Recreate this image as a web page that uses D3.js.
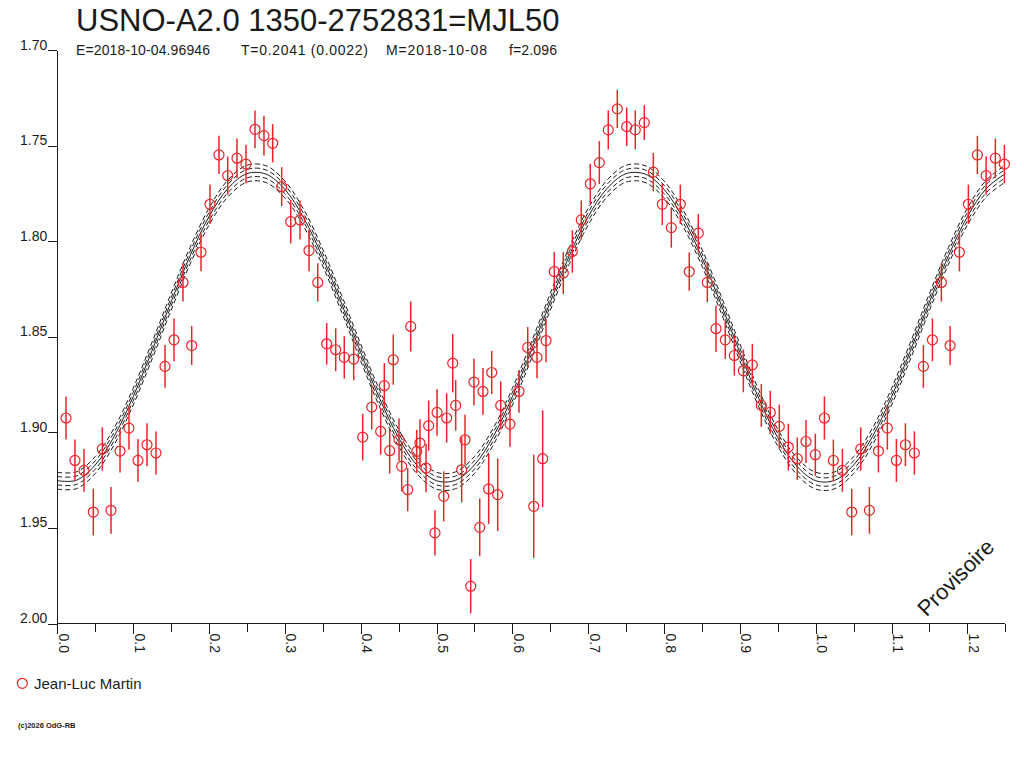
<!doctype html>
<html lang="fr">

<head>
  <meta charset="utf-8">
  <title>USNO-A2.0 1350-2752831=MJL50</title>
</head>

<body style="margin:0; overflow:hidden; background:#fff">
  <script src="https://cdnjs.cloudflare.com/ajax/libs/d3/7.8.5/d3.min.js"></script>
  <style>
    text { font-family: "Liberation Sans", Arial, sans-serif; fill: #1a1a1a; }
    .axis path, .axis line { stroke: #1a1a1a; shape-rendering: crispEdges; }
  </style>
  <script type="text/javascript">

    // measurements, phase 0..1 (the chart repeats 0..0.25 after 1.0)
    const phases = [
      0.0115, 0.0233, 0.0352, 0.0475, 0.0594, 0.0708, 0.0827, 0.0945, 0.1064, 0.1183,
      0.1301, 0.1420, 0.1539, 0.1657, 0.1772, 0.1895, 0.2013, 0.2132, 0.2247, 0.2369,
      0.2488, 0.2607, 0.2725, 0.2840, 0.2959, 0.3078, 0.3200, 0.3319, 0.3434, 0.3552,
      0.3671, 0.3784, 0.3908, 0.4027, 0.4146, 0.4264, 0.4312, 0.4383, 0.4430, 0.4506,
      0.4541, 0.4620, 0.4660, 0.4739, 0.4782, 0.4862, 0.4897, 0.4980, 0.5007, 0.5095,
      0.5134, 0.5214, 0.5253, 0.5332, 0.5376, 0.5451, 0.5494, 0.5570, 0.5613, 0.5688,
      0.5728, 0.5807, 0.5847, 0.5969, 0.6088, 0.6203, 0.6282, 0.6325, 0.6400, 0.6444,
      0.6553, 0.6672, 0.6791, 0.6909, 0.7028, 0.7147, 0.7265, 0.7384, 0.7508, 0.7621,
      0.7740, 0.7859, 0.7977, 0.8096, 0.8215, 0.8333, 0.8452, 0.8571, 0.8685, 0.8808,
      0.8927, 0.9046, 0.9164, 0.9283, 0.9401, 0.9520, 0.9639, 0.9757, 0.9872, 0.9995
    ]
    const mags = [
      1.8925, 1.9147, 1.9199, 1.9417, 1.9087, 1.9408, 1.9098, 1.8978, 1.9147, 1.9065,
      1.9108, 1.8655, 1.8516, 1.8216, 1.8546, 1.8058, 1.7807, 1.7549, 1.7657, 1.7566,
      1.7597, 1.7415, 1.7448, 1.7488, 1.7715, 1.7898, 1.7889, 1.8049, 1.8216, 1.8537,
      1.8568, 1.8608, 1.8617, 1.9025, 1.8868, 1.8995, 1.8756, 1.9096, 1.8620, 1.9039,
      1.9178, 1.9300, 1.8446, 1.9100, 1.9056, 1.9187, 1.8965, 1.9526, 1.8896, 1.9335,
      1.8925, 1.8638, 1.8859, 1.9196, 1.9039, 1.9805, 1.8737, 1.9497, 1.8786, 1.9296,
      1.8687, 1.9326, 1.8859, 1.8957, 1.8786, 1.8556, 1.9387, 1.8608, 1.9138, 1.8520,
      1.8159, 1.8167, 1.8054, 1.7889, 1.7700, 1.7589, 1.7418, 1.7308, 1.7401, 1.7418,
      1.7380, 1.7639, 1.7807, 1.7929, 1.7807, 1.8159, 1.7958, 1.8216, 1.8458, 1.8516,
      1.8598, 1.8678, 1.8647, 1.8859, 1.8896, 1.8969, 1.9077, 1.9138, 1.9048, 1.9117
    ]
    const errs = [
      0.0113, 0.0109, 0.0112, 0.0122, 0.0113, 0.0122, 0.0112, 0.0113, 0.0112, 0.0112,
      0.0113, 0.0112, 0.0112, 0.0100, 0.0102, 0.0100, 0.0103, 0.0100, 0.0100, 0.0103,
      0.0100, 0.0099, 0.0104, 0.0100, 0.0102, 0.0113, 0.0102, 0.0109, 0.0100, 0.0109,
      0.0112, 0.0111, 0.0111, 0.0122, 0.0118, 0.0122, 0.0118, 0.0120, 0.0131, 0.0112,
      0.0131, 0.0113, 0.0131, 0.0113, 0.0125, 0.0126, 0.0131, 0.0118, 0.0122, 0.0131,
      0.0129, 0.0153, 0.0132, 0.0170, 0.0131, 0.0142, 0.0122, 0.0151, 0.0122, 0.0183,
      0.0113, 0.0190, 0.0126, 0.0119, 0.0112, 0.0107, 0.0270, 0.0109, 0.0253, 0.0113,
      0.0103, 0.0110, 0.0111, 0.0102, 0.0105, 0.0112, 0.0102, 0.0100, 0.0101, 0.0102,
      0.0091, 0.0100, 0.0109, 0.0105, 0.0103, 0.0100, 0.0100, 0.0103, 0.0122, 0.0100,
      0.0105, 0.0112, 0.0110, 0.0112, 0.0113, 0.0113, 0.0122, 0.0111, 0.0113, 0.0110
    ]

    // fitted curve
    const fitPhase = [
      0.000, 0.025, 0.050, 0.075, 0.100, 0.125, 0.150, 0.175, 0.200, 0.225,
      0.250, 0.275, 0.300, 0.325, 0.350, 0.375, 0.400, 0.425, 0.450, 0.475,
      0.500, 0.525, 0.550, 0.575, 0.600, 0.625, 0.650, 0.675, 0.700, 0.725,
      0.750, 0.775, 0.800, 0.825, 0.850, 0.875, 0.900, 0.925, 0.950, 0.975,
      1.000, 1.025, 1.050, 1.075, 1.100, 1.125, 1.150, 1.175, 1.200, 1.225, 1.250
    ]
    const fitMag = [
      1.9253, 1.9251, 1.9171, 1.9021, 1.8814, 1.8572, 1.8318, 1.8077, 1.7872, 1.7724,
      1.7647, 1.7649, 1.7729, 1.7879, 1.8086, 1.8328, 1.8582, 1.8823, 1.9028, 1.9176,
      1.9253, 1.9251, 1.9171, 1.9021, 1.8814, 1.8572, 1.8318, 1.8077, 1.7872, 1.7724,
      1.7647, 1.7649, 1.7729, 1.7879, 1.8086, 1.8328, 1.8582, 1.8823, 1.9028, 1.9176,
      1.9253, 1.9251, 1.9171, 1.9021, 1.8814, 1.8572, 1.8318, 1.8077, 1.7872, 1.7724, 1.7647
    ]
    const bandOffsets = [-0.0044, -0.0022, 0, 0.0022, 0.0044]

    const xMajor = [0, 0.1, 0.2, 0.3, 0.4, 0.5, 0.6, 0.7, 0.8, 0.9, 1.0, 1.1, 1.2]
    const xMinor = [0.05, 0.15, 0.25, 0.35, 0.45, 0.55, 0.65, 0.75, 0.85, 0.95, 1.05, 1.15, 1.25]
    const yTicks = [1.70, 1.75, 1.80, 1.85, 1.90, 1.95, 2.00]

    const title = "USNO-A2.0 1350-2752831=MJL50"
    const subtitle = [
      { t: "E=2018-10-04.96946", x0: 76, x1: 210 },
      { t: "T=0.2041 (0.0022)", x0: 241, x1: 368 },
      { t: "M=2018-10-08", x0: 386, x1: 487 },
      { t: "f=2.096", x0: 509, x1: 557 }
    ]
    const observer = "Jean-Luc Martin"
    const red = "#ec2228"

    let svg = d3.select("body").append("svg")
      .attr("width", 1024)
      .attr("height", 768)
      .attr("xmlns", "http://www.w3.org/2000/svg")

    let x = d3.scaleLinear().domain([0, 1.25]).range([57.3, 1005.3])
    let y = d3.scaleLinear().domain([1.70, 2.00]).range([50, 623.5])

    // axes
    svg.append("g").attr("class", "axis")
      .attr("transform", `translate(0,${y(2.00)})`)
      .call(d3.axisBottom(x).tickValues(xMinor).tickSize(8).tickSizeOuter(0).tickFormat(""))
      .call(g => g.select(".domain").remove())

    let xAxis = svg.append("g").attr("class", "axis")
      .attr("transform", `translate(0,${y(2.00)})`)
      .call(d3.axisBottom(x).tickValues(xMajor).tickSize(10).tickSizeOuter(0).tickFormat(d3.format(".1f")))
    xAxis.select(".domain").attr("d", `M${x(0)},0H${x(1.25)}`)
    xAxis.selectAll("text")
      .attr("transform", "rotate(90)")
      .attr("x", 10).attr("y", -1).attr("dy", 0)
      .attr("text-anchor", "start")
      .attr("font-size", 14).attr("font-family", null)
      .style("fill", "#1a1a1a")

    let yAxis = svg.append("g").attr("class", "axis")
      .attr("transform", `translate(${x(0)},0)`)
      .call(d3.axisLeft(y).tickValues(yTicks).tickSize(9).tickSizeOuter(0).tickFormat(d3.format(".2f")))
    yAxis.selectAll("text")
      .attr("x", -10).attr("y", -1).attr("dy", 0)
      .attr("font-size", 14).attr("font-family", null)
      .style("fill", "#1a1a1a")

    // fitted curve with its envelope
    let line = d3.line()
      .x((d, i) => x(fitPhase[i]))
      .curve(d3.curveCatmullRom)

    bandOffsets.forEach(off => {
      svg.append("path")
        .datum(fitMag)
        .attr("d", line.y(m => y(m + off)))
        .attr("fill", "none")
        .attr("stroke", "#1a1a1a")
        .attr("stroke-width", 1)
        .attr("stroke-dasharray", off === 0 ? null : "5,3")
    })

    // points, folded: phases below 0.25 shown again after 1.0
    let pts = phases.map((p, i) => ({ p: p, m: mags[i], e: errs[i] }))
    pts = pts.concat(pts.filter(d => d.p + 1 <= 1.25).map(d => ({ p: d.p + 1, m: d.m, e: d.e })))

    svg.append("g").selectAll("line")
      .data(pts).enter().append("line")
      .attr("x1", d => x(d.p)).attr("x2", d => x(d.p))
      .attr("y1", d => y(d.m - d.e)).attr("y2", d => y(d.m + d.e))
      .attr("stroke", red).attr("stroke-width", 1.5)

    svg.append("g").selectAll("circle")
      .data(pts).enter().append("circle")
      .attr("cx", d => x(d.p)).attr("cy", d => y(d.m))
      .attr("r", 5)
      .attr("fill", "none").attr("stroke", red).attr("stroke-width", 1.2)

    // titles
    svg.append("text").attr("x", 76).attr("y", 31)
      .attr("font-size", 31).text(title)

    svg.selectAll(".sub").data(subtitle).enter().append("text")
      .attr("class", "sub")
      .attr("x", d => d.x0).attr("y", 55)
      .attr("font-size", 14)
      .attr("textLength", d => d.x1 - d.x0)
      .attr("lengthAdjust", "spacing")
      .text(d => d.t)

    svg.append("text")
      .attr("transform", "translate(961,583) rotate(-45)")
      .attr("text-anchor", "middle")
      .attr("font-size", 22)
      .text("Provisoire")

    // legend
    svg.append("circle").attr("cx", 22.3).attr("cy", 683.3).attr("r", 5)
      .attr("fill", "none").attr("stroke", red).attr("stroke-width", 1.2)
    svg.append("text").attr("x", 34).attr("y", 688.5)
      .attr("font-size", 15).text(observer)

    svg.append("text").attr("x", 18).attr("y", 728)
      .attr("font-size", 7.5).attr("font-weight", "bold").text("(c)2026 OdG-RB")

  </script>
</body>

</html>
